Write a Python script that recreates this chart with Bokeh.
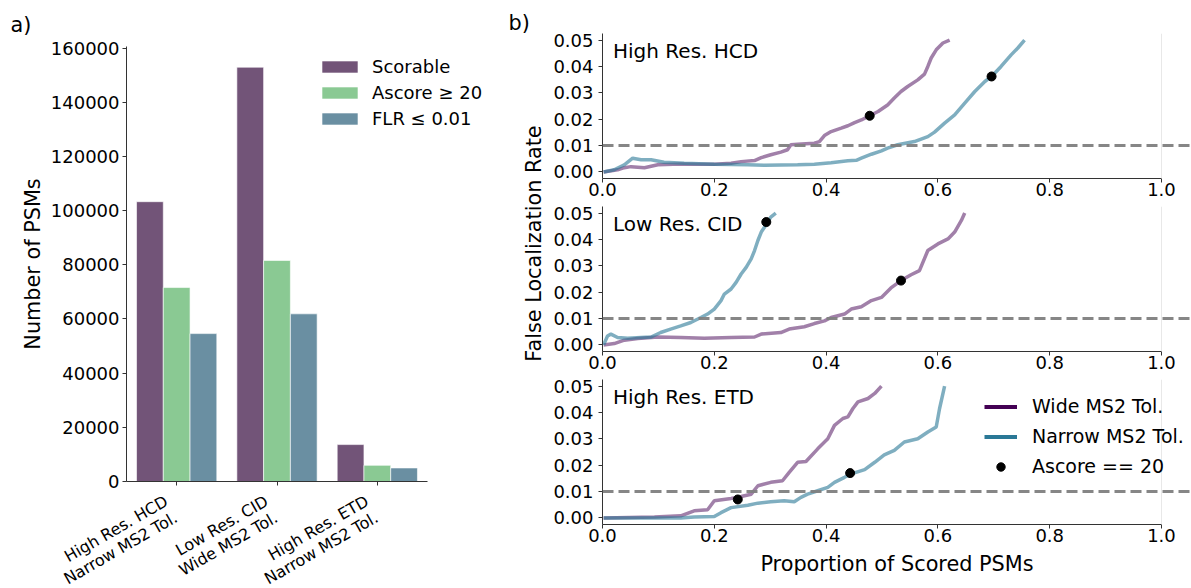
from math import pi
from bokeh.plotting import figure
from bokeh.models import (ColumnDataSource, Range1d, FixedTicker, Legend, LegendItem,
                          Label, Span, NumeralTickFormatter, BasicTickFormatter)
from bokeh.transform import dodge
from bokeh.layouts import row, column
from bokeh.embed import file_html
from bokeh.resources import INLINE

FONT = "DejaVu Sans"

# ---------------- panel a) data ----------------
categories = ["High Res. HCD\nNarrow MS2 Tol.", "Low Res. CID\nWide MS2 Tol.", "High Res. ETD\nNarrow MS2 Tol."]
scorable = [103300, 152950, 13630]
ascore_ge_20 = [71600, 81600, 5960]
flr_le_001 = [54600, 61900, 5000]
bar_labels = ["Scorable", "Ascore \u2265 20", "FLR \u2264 0.01"]
bar_colors = ["#725478", "#8ac993", "#6a8fa2"]
bar_yticks = [0, 20000, 40000, 60000, 80000, 100000, 120000, 140000, 160000]

# ---------------- panel b) data ----------------
panel_titles = ["High Res. HCD", "Low Res. CID", "High Res. ETD"]

hcd_wide_x = [0.002, 0.027, 0.039, 0.051, 0.075, 0.099, 0.140, 0.170, 0.200, 0.230, 0.248, 0.272, 0.284,
              0.301, 0.319, 0.331, 0.337, 0.349, 0.379, 0.388, 0.397, 0.409, 0.427, 0.439, 0.451, 0.463,
              0.478, 0.493, 0.510, 0.522, 0.534, 0.546, 0.564, 0.576, 0.582, 0.588, 0.597, 0.609, 0.621]
hcd_wide_y = [0.0000, 0.0008, 0.0016, 0.0020, 0.0016, 0.0027, 0.0030, 0.0029, 0.0029, 0.0033, 0.0039, 0.0043,
              0.0054, 0.0065, 0.0075, 0.0084, 0.0103, 0.0105, 0.0109, 0.0115, 0.0138, 0.0153, 0.0166, 0.0175,
              0.0187, 0.0197, 0.0213, 0.0229, 0.0254, 0.0280, 0.0305, 0.0324, 0.0349, 0.0371, 0.0400, 0.0432,
              0.0463, 0.0489, 0.0500]
hcd_narrow_x = [0.002, 0.021, 0.039, 0.054, 0.069, 0.087, 0.110, 0.146, 0.200, 0.260, 0.290, 0.349, 0.379,
                0.409, 0.439, 0.454, 0.463, 0.481, 0.499, 0.510, 0.528, 0.558, 0.582, 0.594, 0.612, 0.630,
                0.648, 0.666, 0.684, 0.696, 0.713, 0.731, 0.743, 0.755]
hcd_narrow_y = [0.0000, 0.0008, 0.0027, 0.0052, 0.0046, 0.0046, 0.0037, 0.0033, 0.0029, 0.0027, 0.0025, 0.0027,
                0.0029, 0.0035, 0.0042, 0.0044, 0.0052, 0.0067, 0.0080, 0.0090, 0.0103, 0.0115, 0.0134, 0.0151,
                0.0185, 0.0216, 0.0261, 0.0305, 0.0343, 0.0362, 0.0400, 0.0444, 0.0470, 0.0500]
hcd_dots_x = [0.478, 0.696]
hcd_dots_y = [0.0213, 0.0362]

cid_wide_x = [0.002, 0.021, 0.039, 0.063, 0.099, 0.140, 0.182, 0.230, 0.272, 0.284, 0.319, 0.334, 0.361,
              0.379, 0.397, 0.409, 0.433, 0.445, 0.463, 0.481, 0.499, 0.516, 0.534, 0.552, 0.567, 0.582,
              0.600, 0.618, 0.630, 0.642, 0.648]
cid_wide_y = [0.0000, 0.0005, 0.0018, 0.0024, 0.0030, 0.0028, 0.0025, 0.0028, 0.0030, 0.0041, 0.0047, 0.0060,
              0.0069, 0.0081, 0.0091, 0.0104, 0.0117, 0.0136, 0.0145, 0.0168, 0.0180, 0.0216, 0.0244, 0.0266,
              0.0282, 0.0358, 0.0383, 0.0402, 0.0428, 0.0472, 0.0500]
cid_narrow_x = [0.002, 0.009, 0.015, 0.027, 0.045, 0.069, 0.087, 0.104, 0.122, 0.140, 0.158, 0.176, 0.188,
                0.200, 0.212, 0.218, 0.230, 0.239, 0.248, 0.257, 0.266, 0.272, 0.278, 0.284, 0.290, 0.301, 0.310]
cid_narrow_y = [0.0000, 0.0034, 0.0041, 0.0028, 0.0025, 0.0028, 0.0030, 0.0047, 0.0060, 0.0072, 0.0085, 0.0104,
                0.0117, 0.0136, 0.0168, 0.0193, 0.0212, 0.0237, 0.0269, 0.0294, 0.0326, 0.0358, 0.0396, 0.0428,
                0.0447, 0.0485, 0.0500]
cid_dots_x = [0.293, 0.534]
cid_dots_y = [0.0466, 0.0244]

etd_wide_x = [0.002, 0.093, 0.140, 0.164, 0.188, 0.200, 0.230, 0.248, 0.266, 0.278, 0.301, 0.322, 0.334,
              0.349, 0.364, 0.385, 0.403, 0.415, 0.430, 0.439, 0.448, 0.457, 0.475, 0.487, 0.499]
etd_wide_y = [0.0000, 0.0003, 0.0008, 0.0027, 0.0031, 0.0065, 0.0074, 0.0081, 0.0090, 0.0122, 0.0135, 0.0141,
              0.0173, 0.0211, 0.0214, 0.0262, 0.0300, 0.0351, 0.0377, 0.0383, 0.0415, 0.0440, 0.0453, 0.0472,
              0.0500]
etd_narrow_x = [0.002, 0.140, 0.164, 0.200, 0.212, 0.230, 0.260, 0.278, 0.301, 0.325, 0.343, 0.355, 0.367,
                0.385, 0.403, 0.415, 0.433, 0.445, 0.469, 0.487, 0.504, 0.522, 0.540, 0.564, 0.582, 0.597,
                0.603, 0.612]
etd_narrow_y = [0.0000, 0.0000, 0.0003, 0.0005, 0.0020, 0.0039, 0.0048, 0.0056, 0.0061, 0.0065, 0.0061, 0.0078,
                0.0090, 0.0103, 0.0116, 0.0135, 0.0154, 0.0167, 0.0183, 0.0211, 0.0239, 0.0256, 0.0288, 0.0300,
                0.0326, 0.0345, 0.0415, 0.0500]
etd_dots_x = [0.242, 0.443]
etd_dots_y = [0.0070, 0.0170]

series_labels = ["Wide MS2 Tol.", "Narrow MS2 Tol.", "Ascore == 20"]
wide_color = "#440154"
narrow_color = "#2a7896"
flr_threshold = 0.01
x_ticks = [0.0, 0.2, 0.4, 0.6, 0.8, 1.0]
y_ticks = [0.0, 0.01, 0.02, 0.03, 0.04, 0.05]


def style_axis(ax, size="18px"):
    ax.major_label_text_font = FONT
    ax.major_label_text_font_size = size
    ax.major_label_text_color = "black"
    ax.axis_label_text_font = FONT
    ax.axis_label_text_font_size = "20.8px"
    ax.axis_label_text_font_style = "normal"
    ax.axis_label_text_color = "black"
    ax.axis_line_color = "#333333"
    ax.major_tick_line_color = "#333333"
    ax.major_tick_in = 0
    ax.major_tick_out = 4
    ax.minor_tick_line_color = None


def text_canvas(width, height, x_range):
    """A figure with no axes whose frame is its whole canvas (used for free-floating texts)."""
    f = figure(width=width, height=height, x_range=x_range, y_range=Range1d(0, 1),
               x_axis_location=None, y_axis_location=None, output_backend="svg", toolbar_location=None,
               min_border=0, min_border_left=0, min_border_right=0, min_border_top=0, min_border_bottom=0)
    f.outline_line_color = None
    f.grid.visible = False
    return f


# ---------------- left figure (bar chart) ----------------
LW = 505
TOP_H = 491                           # height of the bar chart canvas
FRAME_L, FRAME_R = 126, 427           # visible x-axis extent of the bar chart
unit_px = (FRAME_R - FRAME_L) / len(categories)
x_end = -0.5 + (LW - FRAME_L) / unit_px

left = figure(width=LW, height=TOP_H, x_range=Range1d(-0.5, x_end),
              y_range=Range1d(0, max(scorable) * 1.05),
              output_backend="svg", toolbar_location=None,
              min_border_left=FRAME_L, min_border_right=0, min_border_top=43, min_border_bottom=TOP_H - 481)
left.outline_line_color = None
left.grid.visible = False

idx = list(range(len(categories)))
src = ColumnDataSource(dict(idx=idx, s=scorable, a=ascore_ge_20, f=flr_le_001))
bw = 0.8 / 3
rs = []
for i, (col, colr) in enumerate(zip(["s", "a", "f"], bar_colors)):
    r = left.vbar(x=dodge("idx", (i - 1) * bw), top=col, width=bw, source=src,
                  fill_color=colr, line_color="white", line_width=1, line_alpha=0.6)
    rs.append(r)

xa = left.xaxis[0]
style_axis(xa)
xa.bounds = (-0.5, len(categories) - 0.5)
xa.ticker = FixedTicker(ticks=idx)
xa.major_label_overrides = {i: "" for i in idx}
xa.major_label_text_font_size = "0px"
xa.major_label_standoff = 0

ya = left.yaxis[0]
style_axis(ya)
ya.ticker = FixedTicker(ticks=bar_yticks)
ya.formatter = BasicTickFormatter(use_scientific=False)
ya.major_label_standoff = 3
ya.axis_label = "Number of PSMs"
ya.axis_label_standoff = 3

leg_a = Legend(items=[LegendItem(label=l, renderers=[r]) for l, r in zip(bar_labels, rs)],
               location=(191, 352), padding=0, margin=0, spacing=5, glyph_width=45, glyph_height=15,
               label_height=21, label_standoff=10, label_text_font=FONT, label_text_font_size="18px",
               label_text_color="black", background_fill_alpha=0, border_line_alpha=0)
left.add_layout(leg_a)

left.title.text = "a)"
left.title.align = "left"
left.title.offset = -116
left.title.standoff = 20
left.title.text_font = FONT
left.title.text_font_size = "20.8px"
left.title.text_font_style = "normal"
left.title.text_color = "black"

# category tick labels (rotated, two lines) below the bar chart
cat_h = 588 - TOP_H
cat = text_canvas(LW, cat_h, Range1d(-0.5 - FRAME_L / unit_px, x_end))
for i, c in zip(idx, categories):
    cat.add_layout(Label(x=i - 15 / unit_px, y=cat_h, x_units="data", y_units="screen", text=c,
                         angle=pi / 6, text_align="right", text_baseline="top", text_font=FONT,
                         text_font_size="16px", text_line_height=1.0, text_color="black"))

# ---------------- strip holding "b)" and the shared y label ----------------
SW = 40
strip = text_canvas(SW, 588, Range1d(0, 1))
strip.add_layout(Label(x=3, y=588 - 22, x_units="screen", y_units="screen", text="b)", text_font=FONT,
                       text_font_size="20.8px", text_baseline="middle", text_color="black"))
strip.add_layout(Label(x=28, y=588 - 243, x_units="screen", y_units="screen", text="False Localization Rate",
                       text_font=FONT, text_font_size="20.8px", text_baseline="middle", text_align="center",
                       angle=pi / 2, text_color="black"))

# ---------------- right figures (FLR curves) ----------------
RW = 1191 - LW - SW
FH = 145
PL = 602 - LW - SW                       # left border of the curve panels
FW = RW - PL                             # frame width (runs to canvas edge)
AXIS_PX = 559                            # pixels for x in [0, 1]
xr_end = FW / AXIS_PX


def make_panel(title, wx, wy, nx, ny, dx, dy, top, bottom, last=False):
    p = figure(width=RW, height=top + FH + bottom, x_range=Range1d(0, xr_end), y_range=Range1d(-0.0025, 0.0525),
               output_backend="svg", toolbar_location=None,
               min_border_left=PL, min_border_right=0, min_border_top=top, min_border_bottom=bottom)
    p.grid.visible = False
    p.outline_line_color = None
    p.add_layout(Span(location=x_ticks[-1], dimension="height", line_color="#e8e8e8", line_width=1))
    p.line(wx, wy, line_color=wide_color, line_alpha=0.5, line_width=3.5)
    p.line(nx, ny, line_color=narrow_color, line_alpha=0.6, line_width=3.5)
    p.add_layout(Span(location=flr_threshold, dimension="width", line_color="gray", line_alpha=0.95,
                      line_width=3, line_dash="11 5"))
    dots = p.scatter(dx, dy, size=9, color="black")
    style_axis(p.xaxis[0])
    style_axis(p.yaxis[0])
    p.xaxis[0].bounds = (x_ticks[0], x_ticks[-1])
    p.xaxis[0].ticker = FixedTicker(ticks=x_ticks)
    p.xaxis[0].formatter = NumeralTickFormatter(format="0.0")
    p.xaxis[0].major_label_standoff = 0
    p.yaxis[0].ticker = FixedTicker(ticks=y_ticks)
    p.yaxis[0].formatter = NumeralTickFormatter(format="0.00")
    p.yaxis[0].major_label_standoff = 5
    p.add_layout(Label(x=10.5, y=FH - 17.7, x_units="screen", y_units="screen", text=title, text_font=FONT,
                       text_font_size="20px", text_baseline="alphabetic", text_color="black"))
    if last:
        p.xaxis[0].axis_label = "Proportion of Scored PSMs"
        p.xaxis[0].axis_label_standoff = 7
        lw = p.line(wx, wy, line_color=wide_color, line_width=4, visible=False)
        ln = p.line(nx, ny, line_color=narrow_color, line_width=4, visible=False)
        leg = Legend(items=[LegendItem(label=l, renderers=[r]) for l, r in zip(series_labels, [lw, ln, dots])],
                     location=(382, 47), padding=0, margin=0, spacing=8, glyph_width=33, glyph_height=21,
                     label_height=21, label_standoff=15, label_text_font=FONT, label_text_font_size="19px",
                     label_text_color="black", background_fill_alpha=0, border_line_alpha=0,
                     inactive_fill_alpha=0)
        p.add_layout(leg)
    return p


p1 = make_panel(panel_titles[0], hcd_wide_x, hcd_wide_y, hcd_narrow_x, hcd_narrow_y, hcd_dots_x, hcd_dots_y, 33, 25)
p2 = make_panel(panel_titles[1], cid_wide_x, cid_wide_y, cid_narrow_x, cid_narrow_y, cid_dots_x, cid_dots_y, 3, 25)
p3 = make_panel(panel_titles[2], etd_wide_x, etd_wide_y, etd_narrow_x, etd_narrow_y, etd_dots_x, etd_dots_y,
                3, 588 - 203 - 173 - 3 - FH, last=True)

layout = row(column(column(left), column(cat)), column(strip), column(p1, p2, p3))
open("out.html", "w").write(file_html(layout, INLINE))
